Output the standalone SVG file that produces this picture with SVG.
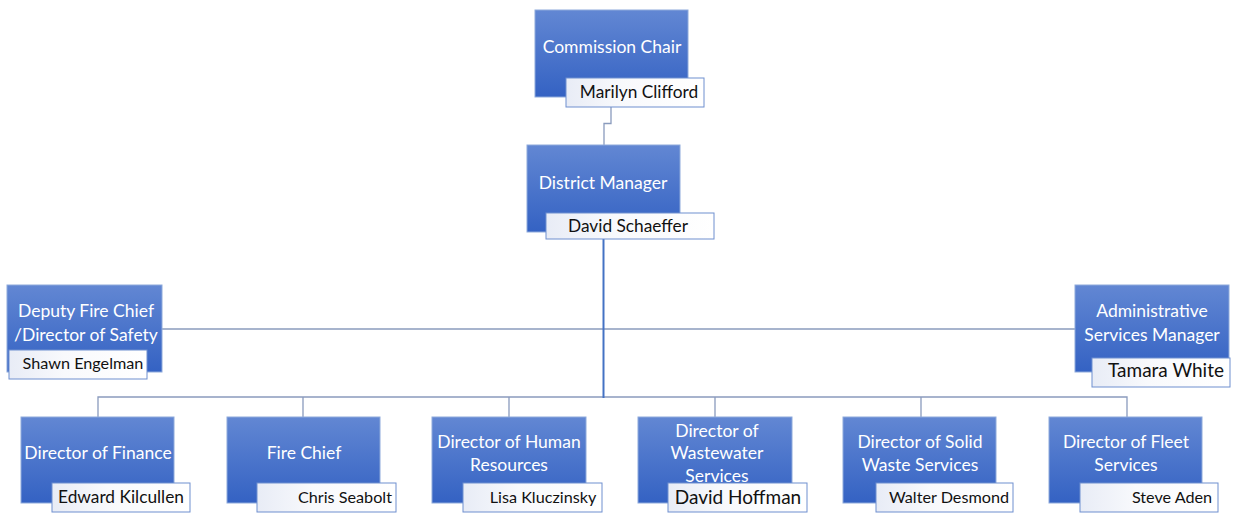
<svg xmlns="http://www.w3.org/2000/svg" width="1239" height="513" viewBox="0 0 1239 513">
  <defs>
    <linearGradient id="boxFill" x1="0" y1="0" x2="0" y2="1">
      <stop offset="0" stop-color="#6287d3"/>
      <stop offset="1" stop-color="#3462c3"/>
    </linearGradient>
    <linearGradient id="nameFill" x1="0" y1="0" x2="1" y2="0">
      <stop offset="0" stop-color="#e8ecf6"/>
      <stop offset="0.4" stop-color="#f8f9fc"/>
      <stop offset="1" stop-color="#ffffff"/>
    </linearGradient>
    <style>
      .box { fill: url(#boxFill); stroke: #8eaadb; stroke-width: 1; }
      .name { fill: url(#nameFill); stroke: #6f8fcf; stroke-width: 1; }
      .title { font-family: Lato, "Open Sans", sans-serif; font-size: 17.5px; fill: #ffffff; text-anchor: middle; }
      .person { font-family: Lato, "Open Sans", sans-serif; font-size: 17.3px; fill: #111111; text-anchor: middle; }
      .sm { font-size: 16.2px; }
      .lg { font-size: 19px; }
      .link { fill: none; stroke: #8a9bbd; stroke-width: 1.3; }
      .trunk { fill: none; stroke: #4472c4; stroke-width: 2; }
    </style>
  </defs>

  <rect width="1239" height="513" fill="#ffffff"/>

  <!-- connectors -->
  <g id="connectors">
    <path class="link" d="M611 107 V123.5 H604 V145"/>
    <path class="link" d="M162 329 H1075"/>
    <path class="link" d="M98 417 V397 H1127 V417"/>
    <path class="link" d="M303 397 V417 M509 397 V417 M715 397 V417 M921 397 V417"/>
    <path class="trunk" d="M603.5 232 V398"/>
  </g>

  <g id="commission-chair">
    <rect class="box" x="535" y="10" width="153" height="87"/>
    <text class="title" x="612" y="53">Commission Chair</text>
    <rect class="name" x="566" y="78" width="138" height="29"/>
    <text class="person" x="639" y="98">Marilyn Clifford</text>
  </g>

  <g id="district-manager">
    <rect class="box" x="527" y="145" width="153" height="87"/>
    <text class="title" x="603" y="189">District Manager</text>
    <rect class="name" x="546" y="213" width="168" height="26"/>
    <text class="person" x="628" y="232">David Schaeffer</text>
  </g>

  <g id="deputy-fire-chief">
    <rect class="box" x="7" y="285" width="155" height="87"/>
    <text class="title" x="86" y="317">Deputy Fire Chief</text>
    <text class="title" x="86" y="341">/Director of Safety</text>
    <rect class="name" x="9" y="350" width="138" height="29"/>
    <text class="person sm" x="83" y="369">Shawn Engelman</text>
  </g>

  <g id="admin-services-manager">
    <rect class="box" x="1075" y="285" width="154" height="87"/>
    <text class="title" x="1152" y="317">Administrative</text>
    <text class="title" x="1152" y="341">Services Manager</text>
    <rect class="name" x="1092" y="358" width="138" height="29"/>
    <text class="person lg" x="1166" y="377">Tamara White</text>
  </g>

  <g id="director-finance">
    <rect class="box" x="21" y="417" width="153" height="86"/>
    <text class="title" x="98" y="459">Director of Finance</text>
    <rect class="name" x="52" y="483" width="138" height="29"/>
    <text class="person" x="121" y="503">Edward Kilcullen</text>
  </g>

  <g id="fire-chief">
    <rect class="box" x="227" y="417" width="153" height="86"/>
    <text class="title" x="304" y="459">Fire Chief</text>
    <rect class="name" x="257" y="483" width="139" height="29"/>
    <text class="person sm" x="345" y="503">Chris Seabolt</text>
  </g>

  <g id="director-hr">
    <rect class="box" x="432" y="417" width="154" height="86"/>
    <text class="title" x="509" y="448">Director of Human</text>
    <text class="title" x="509" y="471">Resources</text>
    <rect class="name" x="463" y="483" width="139" height="29"/>
    <text class="person sm" x="543" y="503">Lisa Kluczinsky</text>
  </g>

  <g id="director-wastewater">
    <rect class="box" x="638" y="417" width="154" height="86"/>
    <text class="title" x="717" y="437">Director of</text>
    <text class="title" x="717" y="459">Wastewater</text>
    <text class="title" x="717" y="482">Services</text>
    <rect class="name" x="668" y="483" width="139" height="29"/>
    <text class="person lg" x="738" y="504">David Hoffman</text>
  </g>

  <g id="director-solid-waste">
    <rect class="box" x="843" y="417" width="153" height="86"/>
    <text class="title" x="920" y="448">Director of Solid</text>
    <text class="title" x="920" y="471">Waste Services</text>
    <rect class="name" x="876" y="483" width="137" height="29"/>
    <text class="person sm" x="949" y="503">Walter Desmond</text>
  </g>

  <g id="director-fleet">
    <rect class="box" x="1049" y="417" width="153" height="86"/>
    <text class="title" x="1126" y="448">Director of Fleet</text>
    <text class="title" x="1126" y="471">Services</text>
    <rect class="name" x="1080" y="483" width="138" height="29"/>
    <text class="person sm" x="1172" y="503">Steve Aden</text>
  </g>
</svg>
